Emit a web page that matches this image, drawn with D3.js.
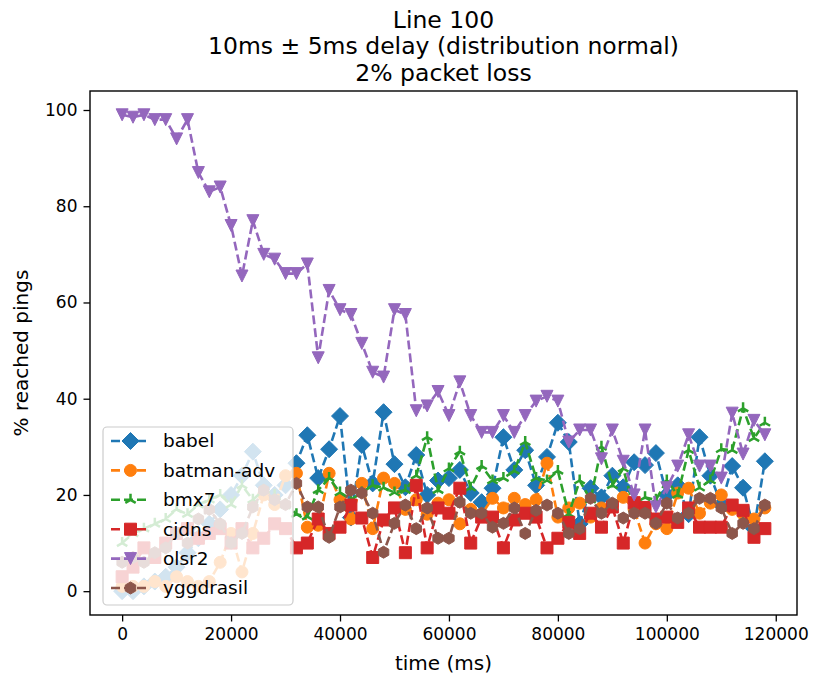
<!DOCTYPE html>
<html>
<head>
<meta charset="utf-8">
<script src="https://cdn.jsdelivr.net/npm/d3@7"></script>
<style>
  body { margin: 0; background: #fff; }
  svg { display: block; font-family: "DejaVu Sans", sans-serif; }
</style>
</head>
<body>
<svg id="chart" width="814" height="680"></svg>
<script>
// ---- data ----
const times = d3.range(0, 120000, 2000); // 0 .. 118000
const seriesNames = ["babel", "batman-adv", "bmx7", "cjdns", "olsr2", "yggdrasil"];
const babel = [0,0,1,2,3,5,8,11,14,17,20,24,29,22,20,22,26.6,32.4,23.5,29.5,36.4,15.3,30.4,22.4,37.2,26.4,21.6,28.3,20,23,23.5,25.2,20.4,18.5,21.4,32,25.2,29.3,22,27.9,35,31,14,21.4,19.5,24,21.6,26.8,26.2,28.7,20,22,16,32,24,18,26,21.5,13,27];
const batmanAdv = [1,1,1,2,1,3,2,1,2,6,12,4,12,20,18,24,24.5,13.3,13.7,24.5,19,15,22.4,13,23.5,22.4,17,19,16,18.3,19,14,17,16,19.3,17.3,19.3,18,19,26.6,15.4,17.3,18.3,15.4,17.3,18,19.5,17,10,14,13,20.4,21.4,16.2,18.3,20,17,16,15,17.3];
const bmx7 = [10,12,13,14,15,17,16,18,19,20,18,22,19,21,20,18,16,15.5,21,23.5,20.5,19,20.5,22,21.5,20.5,21,24,32,21,25.5,29,21.5,26,23,23.5,25,31,23.5,23,25,16,23,19,30,22,25.5,17,19.5,19,23,20,29.3,21.5,23,29.5,29.3,38,31.8,35];
const cjdns = [3,5,9,7,10,12,13,11,12,13,10,13,9,11,14,13,9,10,15,12,13.3,17.9,15.2,7,14.8,17.3,8,22,9,17.3,16.2,21.4,10,15.4,15.4,9,14.8,16.2,15.4,9,11,14.3,12,16.2,13.3,17.5,10,18.4,17.4,15,15.4,14.3,17.3,13.3,13.3,13.3,17.9,16.8,11.2,13];
const olsr2 = [99,98.5,99,98,98,94,98,87,83,84,76,65.5,77,70,69,66,66,68,48.5,62.5,58.5,57.5,51.5,45.5,44.5,58.5,57.5,37.5,38.5,41.5,36.5,43.5,36.5,33,33,36.5,33,36.5,39.5,40.5,39.5,31,33.5,33.5,27.5,33.5,27,20,33.5,17.5,21.5,26,32.5,26,26,23.5,37,28.5,35.5,32.5];
const yggdrasil = [6,7,6,8,9,12,10,15,17,14,10,12,17.5,21,19,18,22.4,17.5,17.5,11.2,17.5,21,20.4,16.2,8.1,14.1,17.9,13,17.3,11,11,18.5,16.2,16.2,13.3,14.1,17.3,12,16.8,17.9,16.2,12,13,19.3,16.2,18.3,15.2,16.2,16.2,14.1,18.3,15.2,16.2,19.3,19.3,17.3,12,14.1,13,17.9];
const seriesValues = [babel, batmanAdv, bmx7, cjdns, olsr2, yggdrasil];
const colors = ["#1f77b4", "#ff7f0e", "#2ca02c", "#d62728", "#9467bd", "#8c564b"];
const markers = ["diamond", "circle", "tri_up", "square", "triangle_down", "hexagon"];
const xTicks = [0, 20000, 40000, 60000, 80000, 100000, 120000];
const yTicks = [0, 20, 40, 60, 80, 100];
const titleLines = ["Line 100", "10ms \u00b1 5ms delay (distribution normal)", "2% packet loss"];

// ---- layout ----
const svg = d3.select("#chart");
const L = 90, R = 797, T = 91, B = 615;
const xMin = 0, xMax = 118000, yMin = 0, yMax = 99;
const xPad = (xMax - xMin) * 0.05, yPad = (yMax - yMin) * 0.05;
const x = d3.scaleLinear().domain([xMin - xPad, xMax + xPad]).range([L, R]);
const y = d3.scaleLinear().domain([yMin - yPad, yMax + yPad]).range([B, T]);
const MS = 12; // marker size px
const LW = 2.6, DASH = "9,4";

function markerPath(type, s) {
  const h = s / 2;
  switch (type) {
    case "circle": return `M${h},0A${h},${h} 0 1,1 ${-h},0A${h},${h} 0 1,1 ${h},0Z`;
    case "square": return `M${-h},${-h}H${h}V${h}H${-h}Z`;
    case "diamond": { const d = h * Math.SQRT2; return `M0,${-d}L${d},0L0,${d}L${-d},0Z`; }
    case "triangle_down": return `M0,${h}L${-h},${-h}L${h},${-h}Z`;
    case "hexagon": {
      let p = "";
      for (let i = 0; i < 6; i++) {
        const a = -Math.PI / 2 + i * Math.PI / 3;
        p += (i ? "L" : "M") + (h * Math.cos(a)).toFixed(2) + "," + (h * Math.sin(a)).toFixed(2);
      }
      return p + "Z";
    }
    case "tri_up": {
      const c = Math.cos(Math.PI / 6) * h, sn = Math.sin(Math.PI / 6) * h;
      return `M0,0L0,${-h}M0,0L${-c},${sn}M0,0L${c},${sn}`;
    }
  }
}
function drawMarker(g, type, color, cx, cy) {
  const p = g.append("path").attr("d", markerPath(type, MS)).attr("transform", `translate(${cx},${cy})`);
  if (type === "tri_up") p.attr("fill", "none").attr("stroke", color).attr("stroke-width", 2.5).attr("stroke-linecap", "butt");
  else p.attr("fill", color).attr("stroke", color).attr("stroke-width", 1);
}

// ---- plot ----
const clipId = "plotclip";
svg.append("clipPath").attr("id", clipId).append("rect").attr("x", L).attr("y", T).attr("width", R - L).attr("height", B - T);
const plot = svg.append("g").attr("clip-path", `url(#${clipId})`);
const line = d3.line().x(d => x(d[0])).y(d => y(d[1]));

seriesValues.forEach((vals, i) => {
  const pts = times.map((t, j) => [t, vals[j]]);
  const g = plot.append("g");
  g.append("path").datum(pts).attr("d", line)
    .attr("fill", "none").attr("stroke", colors[i]).attr("stroke-width", LW)
    .attr("stroke-dasharray", DASH);
  pts.forEach(p => drawMarker(g, markers[i], colors[i], x(p[0]), y(p[1])));
});

// ---- axes ----
const xAxis = d3.axisBottom(x).tickValues(xTicks).tickFormat(d3.format("d")).tickSize(6.5).tickPadding(6);
const yAxis = d3.axisLeft(y).tickValues(yTicks).tickFormat(d3.format("d")).tickSize(6.5).tickPadding(6);
const gx = svg.append("g").attr("transform", `translate(0,${B})`).call(xAxis);
const gy = svg.append("g").attr("transform", `translate(${L},0)`).call(yAxis);
[gx, gy].forEach(g => {
  g.select(".domain").remove();
  g.selectAll(".tick line").attr("stroke", "#000").attr("stroke-width", 1.3);
  g.selectAll(".tick text").attr("fill", "#000").style("font-size", "17px").style("font-family", "DejaVu Sans");
});
svg.append("rect").attr("x", L).attr("y", T).attr("width", R - L).attr("height", B - T)
  .attr("fill", "none").attr("stroke", "#000").attr("stroke-width", 1.4);

svg.append("text").attr("x", (L + R) / 2).attr("y", 670).attr("text-anchor", "middle")
  .style("font-size", "20px").text("time (ms)");
svg.append("text").attr("transform", `translate(28,${(T + B) / 2}) rotate(-90)`).attr("text-anchor", "middle")
  .style("font-size", "20px").text("% reached pings");

titleLines.forEach((t, i) => {
  svg.append("text").attr("x", (L + R) / 2).attr("y", 27.5 + i * 26.5).attr("text-anchor", "middle")
    .style("font-size", "23.5px").text(t);
});

// ---- legend ----
const lg = svg.append("g");
const lx = 103, ly = 427, lw = 190, lh = 178;
lg.append("rect").attr("x", lx).attr("y", ly).attr("width", lw).attr("height", lh)
  .attr("rx", 4).attr("fill", "#fff").attr("fill-opacity", 0.8).attr("stroke", "#cccccc").attr("stroke-width", 1.2);
seriesNames.forEach((n, i) => {
  const cy = 441 + i * 29.4;
  lg.append("line").attr("x1", lx + 8).attr("x2", lx + 47).attr("y1", cy).attr("y2", cy)
    .attr("stroke", colors[i]).attr("stroke-width", LW).attr("stroke-dasharray", DASH);
  drawMarker(lg, markers[i], colors[i], lx + 27.5, cy);
  lg.append("text").attr("x", lx + 60).attr("y", cy).attr("dy", "0.35em")
    .style("font-size", "18.5px").text(n);
});
</script>
</body>
</html>
